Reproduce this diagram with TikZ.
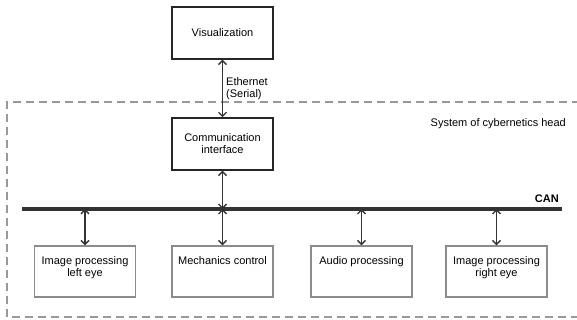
\documentclass[tikz,border=0pt]{standalone}
\usepackage{fontspec}
\setmainfont{Liberation Sans}
\usetikzlibrary{arrows.meta,positioning}

\begin{document}
\begin{tikzpicture}[x=1pt,y=1pt,
  font=\fontsize{11}{12}\selectfont,
  topbox/.style={draw=black!85, line width=1.5pt, minimum width=101pt, minimum height=52pt, align=center, inner sep=0pt},
  lowbox/.style={draw=black!45, line width=1.4pt, minimum width=101pt, minimum height=51pt, inner sep=0pt},
  lowtext/.style={anchor=north, align=center, inner sep=0pt},
  link/.style={draw=black!80, line width=1.4pt, {Straight Barb[length=4pt,width=8pt]}-{Straight Barb[length=4pt,width=8pt]}}]
\useasboundingbox (0,0) rectangle (577,320);

% system frame
\draw[black!40, line width=1.3pt, dash pattern=on 8pt off 5pt] (580,218) -- (7,218) -- (7,3) -- (580,3);
\node[anchor=east, inner sep=0pt] (system) at (566,196) {System of cybernetics head};

% upper boxes
\node[topbox] (visu) at (222.5,287) {Visualization};
\node[topbox] (comm) at (222.5,176) {Communication\\interface};

% bus
\coordinate (busL) at (22,111);
\coordinate (busR) at (562,111);
\draw[black!80, line width=3.2pt] (busL) -- (busR);
\node[anchor=south east, inner sep=0pt] (can) at (559,117) {\textbf{CAN}};

% lower boxes
\node[lowbox] (lefteye) at (85,48.5) {};
\node[lowbox] (mech) at (222.5,48.5) {};
\node[lowbox] (audio) at (361.5,48.5) {};
\node[lowbox] (righteye) at (496.5,48.5) {};
\node[lowtext] (lefteyetxt) at ([yshift=-11pt]lefteye.north) {Image processing\\left eye};
\node[lowtext] (mechtxt) at ([yshift=-11pt]mech.north) {Mechanics control};
\node[lowtext] (audiotxt) at ([yshift=-11pt]audio.north) {Audio processing};
\node[lowtext] (righteyetxt) at ([yshift=-11pt]righteye.north) {Image processing\\right eye};

% links
\draw[link] (visu) -- node[right=3pt, align=left, inner sep=0pt] (eth) {Ethernet\\(Serial)} (comm);
\draw[link] (comm.south) -- (comm.south |- busL);
\foreach \unit in {lefteye,mech,audio,righteye}
  \draw[link] (\unit.north) -- (\unit.north |- busL);
\end{tikzpicture}
\end{document}
